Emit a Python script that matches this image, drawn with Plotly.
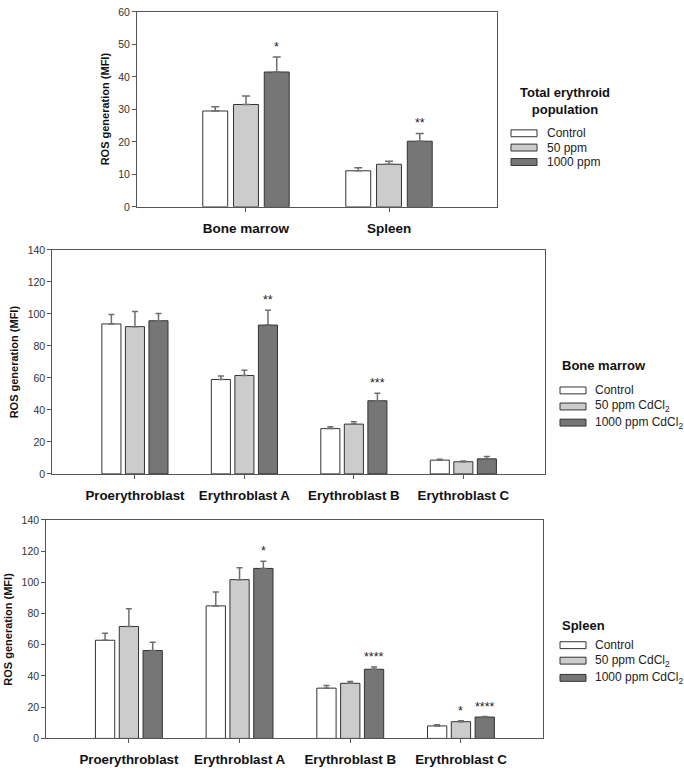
import plotly.graph_objects as go

# ---------------- data ----------------
groups = ["Control", "50 ppm", "1000 ppm"]
groups_cd = ["Control", "50 ppm CdCl<sub>2</sub>", "1000 ppm CdCl<sub>2</sub>"]

top_categories = ["Bone marrow", "Spleen"]
top_control = [29.5, 11.1]
top_control_err = [1.3, 0.9]
top_50 = [31.5, 13.1]
top_50_err = [2.6, 0.9]
top_1000 = [41.5, 20.2]
top_1000_err = [4.6, 2.4]
top_sig_50 = ["", ""]
top_sig_1000 = ["*", "**"]

cell_categories = ["Proerythroblast", "Erythroblast A", "Erythroblast B", "Erythroblast C"]

bm_control = [93.7, 59.0, 28.3, 8.6]
bm_control_err = [5.9, 2.1, 1.2, 0.6]
bm_50 = [92.0, 61.5, 31.1, 7.6]
bm_50_err = [9.5, 3.3, 1.5, 0.4]
bm_1000 = [95.7, 93.0, 45.7, 9.4]
bm_1000_err = [4.5, 9.3, 4.7, 1.4]
bm_sig_50 = ["", "", "", ""]
bm_sig_1000 = ["", "**", "***", ""]

sp_control = [62.9, 84.9, 32.2, 8.0]
sp_control_err = [4.4, 8.9, 1.7, 0.8]
sp_50 = [71.7, 101.7, 35.3, 10.7]
sp_50_err = [11.3, 7.6, 1.1, 0.6]
sp_1000 = [56.3, 108.9, 44.3, 13.7]
sp_1000_err = [5.3, 4.6, 1.5, 0.3]
sp_sig_50 = ["", "", "", "*"]
sp_sig_1000 = ["", "*", "****", "****"]

top_ticks = [0, 10, 20, 30, 40, 50, 60]
cell_ticks = [0, 20, 40, 60, 80, 100, 120, 140]

# ---------------- style ----------------
W, H = 684, 771
FILLS = ["#ffffff", "#cccccc", "#767676"]
OUTLINE = "#333333"
AXIS = "#555555"
FONT = "Liberation Sans, Arial, sans-serif"
BARGAP = 0.355
BARGROUPGAP = 0.19
SLOT = (1 - BARGAP) / 3


def px_x(p):
    return p / W


def px_y(p):
    return 1 - p / H


fig = go.Figure()

panels = [
    dict(xa="x", ya="y", cats=top_categories,
         vals=[top_control, top_50, top_1000],
         errs=[top_control_err, top_50_err, top_1000_err],
         sigs=[None, top_sig_50, top_sig_1000],
         xdom=[137, 497], ydom=[6, 204], xr=[-0.762, 1.755], yr=[0, 60],
         ticks=top_ticks, catfont=13.5, capw=4,
         ytitle_x=105, legend_title="Total erythroid<br>population",
         leg_title_x=565, leg_title_y=96, leg_title_center=True,
         legend_labels=groups, leg_box_x=511, leg_text_x=545,
         leg_y=[129.3, 143.8, 158.5]),
    dict(xa="x2", ya="y2", cats=cell_categories,
         vals=[bm_control, bm_50, bm_1000],
         errs=[bm_control_err, bm_50_err, bm_1000_err],
         sigs=[None, bm_sig_50, bm_sig_1000],
         xdom=[52.3, 545], ydom=[247.7, 475.3], xr=[-0.755, 3.746], yr=[0, 140],
         ticks=cell_ticks, catfont=13.3, capw=3,
         ytitle_x=13.5, legend_title="Bone marrow",
         leg_title_x=560, leg_title_y=365, leg_title_center=False,
         legend_labels=groups_cd, leg_box_x=560, leg_text_x=593,
         leg_y=[390.5, 406.8, 423.2]),
    dict(xa="x3", ya="y3", cats=cell_categories,
         vals=[sp_control, sp_50, sp_1000],
         errs=[sp_control_err, sp_50_err, sp_1000_err],
         sigs=[None, sp_sig_50, sp_sig_1000],
         xdom=[46.2, 543.3], ydom=[522, 744], xr=[-0.747, 3.744], yr=[0, 140],
         ticks=cell_ticks, catfont=13.3, capw=3,
         ytitle_x=8.5, legend_title="Spleen",
         leg_title_x=560, leg_title_y=629.3, leg_title_center=False,
         legend_labels=groups_cd, leg_box_x=560, leg_text_x=593,
         leg_y=[649.3, 665.0, 682.5]),
]

annotations = []
shapes = []
layout_axes = {}

for pi, p in enumerate(panels):
    for gi in range(3):
        fig.add_trace(go.Bar(
            x=p["cats"], y=p["vals"][gi],
            xaxis=p["xa"], yaxis=p["ya"],
            marker=dict(color=FILLS[gi], line=dict(color=OUTLINE, width=1)),
            error_y=dict(type="data", array=p["errs"][gi], arrayminus=[0] * len(p["cats"]),
                         symmetric=False, color="#6e6e6e", thickness=1.5, width=p["capw"]),
            name=groups[gi], showlegend=False,
        ))
        sig = p["sigs"][gi]
        if sig:
            for ci, s in enumerate(sig):
                if s:
                    annotations.append(dict(
                        x=ci + (gi - 1) * SLOT, y=p["vals"][gi][ci] + p["errs"][gi][ci],
                        xref=p["xa"], yref=p["ya"], text=s, showarrow=False,
                        yanchor="bottom", xanchor="center", yshift=1,
                        font=dict(family=FONT, size=12.5, color="#222222")))
    suffix = "" if pi == 0 else str(pi + 1)
    layout_axes["xaxis" + suffix] = dict(
        domain=[px_x(p["xdom"][0]), px_x(p["xdom"][1])],
        anchor=p["ya"], type="category", range=p["xr"],
        showline=True, linecolor=AXIS, linewidth=1, mirror=True,
        ticks="outside", ticklen=4, tickcolor=AXIS, tickwidth=1,
        ticklabelstandoff=5,
        tickfont=dict(family=FONT, size=p["catfont"], color="#111111", weight="bold"),
        showgrid=False, zeroline=False, fixedrange=True,
    )
    layout_axes["yaxis" + suffix] = dict(
        domain=[px_y(p["ydom"][1]), px_y(p["ydom"][0])],
        anchor=p["xa"], range=p["yr"], tickvals=p["ticks"],
        showline=True, linecolor=AXIS, linewidth=1, mirror=True,
        ticks="outside", ticklen=4, tickcolor=AXIS, tickwidth=1,
        tickfont=dict(family=FONT, size=10.5, color="#333333"),
        showgrid=False, zeroline=False, fixedrange=True,
    )
    # y title
    annotations.append(dict(
        x=px_x(p["ytitle_x"]), y=px_y((p["ydom"][0] + p["ydom"][1]) / 2),
        xref="paper", yref="paper", text="ROS generation (MFI)", textangle=-90,
        showarrow=False, xanchor="center", yanchor="middle",
        font=dict(family=FONT, size=11, color="#111111", weight="bold")))
    # legend title
    annotations.append(dict(
        x=px_x(p["leg_title_x"]), y=px_y(p["leg_title_y"]),
        xref="paper", yref="paper", text=p["legend_title"], showarrow=False,
        xanchor="center" if p["leg_title_center"] else "left", yanchor="middle",
        align="center",
        font=dict(family=FONT, size=13, color="#111111", weight="bold")))
    # legend items
    for gi in range(3):
        yc = p["leg_y"][gi]
        shapes.append(dict(
            type="rect", xref="paper", yref="paper",
            x0=px_x(p["leg_box_x"]), x1=px_x(p["leg_box_x"] + 26),
            y0=px_y(yc + 3.5), y1=px_y(yc - 3.5),
            fillcolor=FILLS[gi], line=dict(color=OUTLINE, width=1)))
        annotations.append(dict(
            x=px_x(p["leg_text_x"]), y=px_y(yc),
            xref="paper", yref="paper", text=p["legend_labels"][gi], showarrow=False,
            xanchor="left", yanchor="middle",
            font=dict(family=FONT, size=12, color="#222222")))

fig.update_layout(
    width=W, height=H,
    margin=dict(l=0, r=0, t=0, b=0),
    paper_bgcolor="white", plot_bgcolor="white",
    barmode="group", bargap=BARGAP, bargroupgap=BARGROUPGAP,
    showlegend=False,
    annotations=annotations, shapes=shapes,
    font=dict(family=FONT),
    **layout_axes,
)

fig.write_html(
    "out.html",
    config={"displayModeBar": False},
    post_script="document.body.style.margin='0';document.body.style.padding='0';"
                "document.body.style.overflow='hidden';",
)
